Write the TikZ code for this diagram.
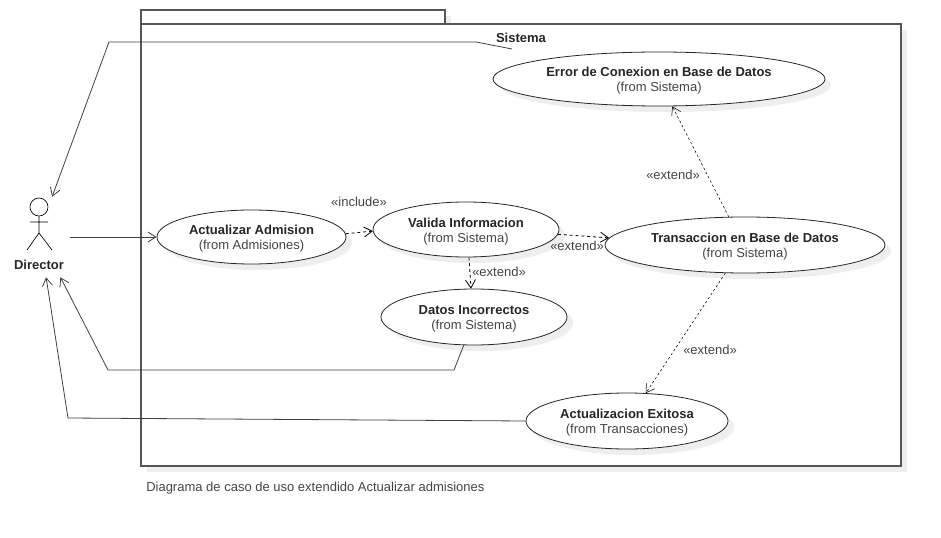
\documentclass[tikz,border=0pt]{standalone}
\usepackage{fontspec}
\setmainfont{Liberation Sans}
\usetikzlibrary{arrows.meta, shapes.geometric, shadows}
\definecolor{framegray}{HTML}{555555}
\definecolor{shadowgray}{HTML}{EEEEEE}
\definecolor{fromgray}{HTML}{444444}
\tikzset{
    usecase/.style={ellipse, draw=black!85, line width=0.6pt, fill=white, inner sep=0pt, align=center,
        font=\fontsize{9.75}{11.3}\selectfont, text=black!85,
        drop shadow={shadow xshift=4.5pt, shadow yshift=-4.5pt, fill=shadowgray, opacity=1}},
    frame/.style={draw=framegray, line width=0.9pt, fill=white},
    stereo/.style={font=\fontsize{9.75}{11}\selectfont, text=fromgray, inner sep=0pt},
    boldname/.style={font=\fontsize{9.75}{11}\selectfont\bfseries, text=black!85, inner sep=0pt},
    assoc/.style={-{Straight Barb[length=6pt,width=7.5pt]}, draw=black!75, line width=0.6pt},
    dep/.style={assoc, dash pattern=on 2.2pt off 2.2pt, draw=black},
    depthin/.style={dep, line width=0.4pt, dash pattern=on 1.8pt off 1.8pt}
}
\newcommand{\ucase}[2]{\rule{0pt}{10.2pt}\textbf{#1}\\{\color{fromgray}(from #2)}}

\begin{document}
\begin{tikzpicture}[x=0.75pt, y=-0.75pt]
    \useasboundingbox (0,0) rectangle (941,538);

    % package
    \path[frame, drop shadow={shadow xshift=4.5pt, shadow yshift=-4.5pt, fill=shadowgray, opacity=1}]
        (141,10) rectangle (445,24);
    \path[frame, drop shadow={shadow xshift=4.5pt, shadow yshift=-4.5pt, fill=shadowgray, opacity=1}]
        (141,24) rectangle (901,466);

    % use cases
    \node[usecase, minimum width=249pt, minimum height=40.5pt] (Error) at (659,79)
        {\ucase{Error de Conexion en Base de Datos}{Sistema}};
    \node[usecase, minimum width=141.75pt, minimum height=40.5pt] (Admision) at (251.5,237)
        {\ucase{Actualizar Admision}{Admisiones}};
    \node[usecase, minimum width=139.5pt, minimum height=41.25pt] (Valida) at (466,229.5)
        {\ucase{Valida Informacion}{Sistema}};
    \node[usecase, minimum width=139.5pt, minimum height=42pt] (Datos) at (474,317)
        {\ucase{Datos Incorrectos}{Sistema}};
    \node[usecase, minimum width=210pt, minimum height=42pt] (Transaccion) at (745,245)
        {\ucase{Transaccion en Base de Datos}{Sistema}};
    \node[usecase, minimum width=151.5pt, minimum height=42pt] (Exitosa) at (627,421)
        {\ucase{Actualizacion Exitosa}{Transacciones}};

    % actor
    \node[minimum width=46.5pt, minimum height=60pt, inner sep=0pt] (Actor) at (39,237) {};
    \draw[line width=0.5pt] (39,207) circle (6.75pt);
    \draw[line width=0.5pt] (39,216) -- (39,233) (30,222) -- (48,222)
        (27,250) -- (39,233) -- (52,250);
    \node[boldname] (Director) at (39,264.5) {Director};

    % free ends and bends
    \coordinate (sysEnd) at (512,49);
    \coordinate (sysA) at (476,42);
    \coordinate (sysB) at (109,42);
    \coordinate (datosA) at (454,370);
    \coordinate (datosB) at (108,370);
    \coordinate (exitoA) at (68,418);

    \draw[assoc] (sysEnd) -- (sysA) -- (sysB) -- (Actor.72);
    \draw[assoc] (Datos.-110) -- (datosA) -- (datosB) -- (Actor.-62);
    \draw[assoc] (Exitosa.west) -- (exitoA) -- (Actor.-80);
    \draw[assoc] (Actor.east) -- (Admision.west);

    \draw[dep] (Admision.2) -- (Valida.181);
    \draw[dep] (Valida.-3) -- (Transaccion.177);
    \draw[dep] (Valida.-84) -- (Datos.96);
    \draw[depthin] (Transaccion.120) -- (Error.-64);
    \draw[depthin] (Transaccion.-125) -- (Exitosa.56);

    % labels
    \node[boldname] (sysName) at (521,37.5) {Sistema};
    \node[stereo] (inc) at (359,202) {«include»};
    \node[stereo] (extA) at (577,245.5) {«extend»};
    \node[stereo] (extB) at (499,271.5) {«extend»};
    \node[stereo] (extC) at (673,174.5) {«extend»};
    \node[stereo] (extD) at (710,349.5) {«extend»};
    \node[stereo, anchor=west] (caption) at (146,488) {Diagrama de caso de uso extendido Actualizar admisiones};
\end{tikzpicture}
\end{document}
